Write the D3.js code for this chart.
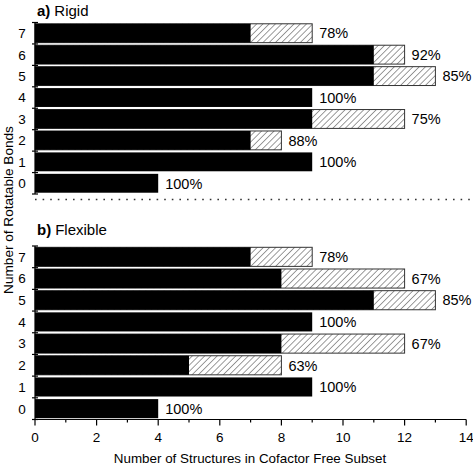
<!DOCTYPE html>
<html><head><meta charset="utf-8">
<script src="https://cdn.jsdelivr.net/npm/d3@7"></script>
<style>body{margin:0;background:#fff}svg{display:block;font-family:"Liberation Sans",Arial,sans-serif}</style>
</head><body>
<svg id="c" width="473" height="467"></svg>
<script>
const categories = [0,1,2,3,4,5,6,7];
const rigidSuccess = [4,9,7,9,9,11,11,7];
const rigidTotal   = [4,9,8,12,9,13,12,9];
const rigidLabels  = ["100%","100%","88%","75%","100%","85%","92%","78%"];
const flexSuccess  = [4,9,5,8,9,11,8,7];
const flexTotal    = [4,9,8,12,9,13,12,9];
const flexLabels   = ["100%","100%","63%","67%","100%","85%","67%","78%"];
const xTicks = [0,2,4,6,8,10,12,14];

const svg = d3.select("#c");
const defs = svg.append("defs");
const pw = 4.4;
const pat = defs.append("pattern").attr("id","hatch").attr("patternUnits","userSpaceOnUse")
  .attr("width",pw).attr("height",pw).attr("patternTransform","rotate(45)");
pat.append("rect").attr("width",pw).attr("height",pw).attr("fill","#fff");
pat.append("line").attr("x1",0).attr("y1",0).attr("x2",0).attr("y2",pw).attr("stroke","#222").attr("stroke-width",0.9);

const x = d3.scaleLinear().domain([0,14]).range([35,466.2]);

function panel(y0, y1, succ, tot, labs, letter, name, labY){
  const y = d3.scaleBand().domain(categories.slice().reverse()).range([y0,y1]).paddingInner(0.12).paddingOuter(0.06);
  const yb = d3.scaleBand().domain(categories.slice().reverse()).range([y0,y1]);
  const g = svg.append("g");
  categories.forEach((c,i)=>{
    if (tot[i] > succ[i]) {
      g.append("rect").attr("x",x(0)).attr("y",y(c)).attr("width",x(tot[i])-x(0)).attr("height",y.bandwidth())
        .attr("fill","url(#hatch)").attr("stroke","#333").attr("stroke-width",1);
    }
    g.append("rect").attr("x",x(0)).attr("y",y(c)).attr("width",x(succ[i])-x(0)).attr("height",y.bandwidth())
      .attr("fill","#000");
    g.append("text").attr("x",x(tot[i])+7).attr("y",y(c)+y.bandwidth()/2).attr("dy","0.36em")
      .attr("font-size",14.5).attr("fill","#000").text(labs[i]);
  });
  g.append("line").attr("x1",35).attr("x2",35).attr("y1",y0).attr("y2",y1).attr("stroke","#000").attr("stroke-width",1.2);
  d3.range(9).forEach(k=>{
    const yy = y0 + k*yb.step();
    g.append("line").attr("x1",32).attr("x2",38).attr("y1",yy).attr("y2",yy).attr("stroke","#000").attr("stroke-width",1.2);
  });
  categories.forEach(c=>{
    g.append("text").attr("x",22).attr("y",yb(c)+yb.bandwidth()/2).attr("dy","0.36em").attr("text-anchor","middle")
      .attr("font-size",13.5).text(c);
  });
  const t = g.append("text").attr("x",37).attr("y",labY).attr("font-size",15);
  t.append("tspan").attr("font-weight","bold").text(letter+")");
  t.append("tspan").attr("dx",4).text(name);
}

panel(22.5, 194, rigidSuccess, rigidTotal, rigidLabels, "a", "Rigid", 15.5);
panel(246, 419.5, flexSuccess, flexTotal, flexLabels, "b", "Flexible", 235);

svg.append("line").attr("x1",35).attr("x2",472).attr("y1",199.5).attr("y2",199.5)
  .attr("stroke","#333").attr("stroke-width",1.6).attr("stroke-dasharray","1.6,6");

const xa = svg.append("g").attr("transform","translate(0,419.5)");
xa.append("line").attr("x1",x(0)).attr("x2",x(14)).attr("stroke","#000").attr("stroke-width",1.2);
d3.range(0,15).forEach(v=>{
  const major = v%2===0;
  xa.append("line").attr("x1",x(v)).attr("x2",x(v)).attr("y1",0).attr("y2",major?6:3).attr("stroke","#000").attr("stroke-width",1.2);
});
xTicks.forEach(v=>{
  xa.append("text").attr("x",x(v)).attr("y",22.5).attr("text-anchor","middle").attr("font-size",13.5).text(v);
});
svg.append("text").attr("x",250).attr("y",462.5).attr("text-anchor","middle").attr("font-size",13.4).text("Number of Structures in Cofactor Free Subset");
svg.append("text").attr("transform","translate(13,210) rotate(-90)").attr("text-anchor","middle").attr("font-size",13.6).text("Number of Rotatable Bonds");
</script>
</body></html>
